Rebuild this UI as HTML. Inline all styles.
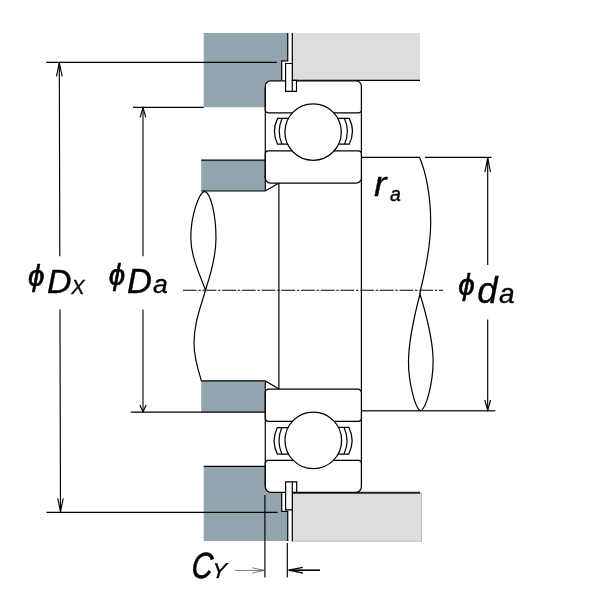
<!DOCTYPE html>
<html>
<head>
<meta charset="utf-8">
<title>Bearing abutment dimensions</title>
<style>
  html, body { margin: 0; padding: 0; background: #ffffff; }
  body { width: 600px; height: 600px; overflow: hidden; }
  svg { display: block; will-change: transform; }
  .lbl { font-family: "Liberation Sans", "DejaVu Sans", sans-serif; font-style: italic; fill: #000; stroke: #000; stroke-width: 0.35; }
  .ph { stroke-width: 0.6; }
  .o  { fill: none; stroke: #000; stroke-width: 1.2; }
  .w  { fill: #fff; stroke: #000; stroke-width: 1.25; }
  .t  { fill: none; stroke: #000; stroke-width: 1.15; }
  .lb { stroke: #000; stroke-width: 0.3; }
  .cb { stroke-width: 0.7; }
  .m  { fill: none; stroke: #000; stroke-width: 1.2; }
  .w.m { fill: #fff; stroke-width: 1.2; }
  .blue { fill: #92a5af; }
  .gray { fill: #dddddd; }
</style>
</head>
<body>
<svg width="600" height="600" viewBox="0 0 600 600">
  <rect x="0" y="0" width="600" height="600" fill="#ffffff"/>

  <!-- ===== housing (blue) top ===== -->
  <path class="blue" d="M203.7 33 H287.8 V61 H282 V81 H272 V107.2 H203.7 Z"/>
  <path class="m" d="M287.75 33 V60.8 H281.7 V80.4"/>
  <!-- housing cover (gray) top -->
    <rect class="gray" x="292.3" y="33" width="127.8" height="47.4"/>
  <path class="m" d="M292.3 33 V80.4 H420"/>

  <!-- ===== housing (blue) bottom ===== -->
  <path class="blue" d="M203.7 466.3 H272 V492 H281.7 V511.3 H287.8 V541 H203.7 Z"/>
  <path class="t" d="M203.7 466.3 H265.3"/>
  <path class="m" d="M281.7 492 V511.3 H287.75 V541"/>
  <!-- housing cover (gray) bottom -->
  <rect class="gray" x="292.3" y="492.8" width="129.1" height="48.4" style="stroke:#b0b0b0;stroke-width:0.8"/>
  <path class="m" d="M292.3 541.2 V492.6" /><path d="M291.5 492.8 H420" fill="none" stroke="#222" stroke-width="2"/>

  <!-- ===== shaft collar (blue) ===== -->
  <rect class="blue" x="201.2" y="160" width="64.2" height="31"/>
  <path class="t" d="M201.2 160.1 H265.3"/>
  <path class="t" d="M201.2 191 H265.3 L278.6 183.2 M265.3 176 V191"/>
  <rect class="blue" x="201.2" y="380.8" width="64.2" height="31.3"/>
  <path class="t" d="M201.2 380.9 H265.3 L278.6 388.8 M265.3 380.8 V396"/>

  <!-- shaft lines through bore -->
  <path class="o" d="M278.9 183 V389"/>
  <path class="o" d="M361.4 88 V486"/>
  <path class="o" d="M265.3 88 V178"/>
  <path class="o" d="M265.3 394 V486"/>
  <!-- shaft shoulder right -->
  <path class="t" d="M361 157.3 H419.5"/>
  <path d="M361 410.8 H420.6" fill="none" stroke="#333" stroke-width="1.4"/>

  <!-- break lines left -->
  <path class="o" d="M204.5 191.3 C199.5 192.5 190.8 214 190.8 238 C190.8 255 198.5 272 205.5 290 C211.5 272 216 255 216 238 C216 214 210.5 192.5 204.5 191.3 Z"/>
  <path class="o" d="M205.5 290 C201.5 305 194 322 194 343 C194 358 198 370 201.5 381"/>
  <!-- break lines right -->
  <path class="o" d="M419.5 157.3 C425.5 171 430.7 195 430.7 222 C430.7 248 425 272 420.5 290.2 L420 294"/>
  <path class="o" d="M420 294 C414 317 408.5 340 408.5 362 C408.5 382 415 408.5 420.6 410.8 C426.5 408.5 433.1 382 433.1 361 C433.1 340 427 317 420 294 Z"/>

  <!-- centre line -->
  <path class="t" d="M183 290.2 H443" stroke-dasharray="13.8 1.75 2.4 1.75" stroke-dashoffset="0.2"/>

  <!-- ===== top bearing ===== -->
  <path class="w" d="M270.8 80.8 H355.9 A5.5 5.5 0 0 1 361.4 86.3 V109.9 A3 3 0 0 1 358.4 112.9 H268.3 A3 3 0 0 1 265.3 109.9 V86.3 A5.5 5.5 0 0 1 270.8 80.8 Z"/>
  <path class="w" d="M268.3 150.8 H358.4 A3 3 0 0 1 361.4 153.8 V178 A5 5 0 0 1 356.4 183 H270.3 A5 5 0 0 1 265.3 178 V153.8 A3 3 0 0 1 268.3 150.8 Z"/>
  <!-- cage -->
  <path class="w" d="M289 118.4 H277.6 Q271.2 131.3 277.6 144.2 H289 Z"/>
  <path class="o" d="M282 118.4 Q276.4 131.3 282 144.2"/>
  <path class="w" d="M337 118.4 H349.2 Q355.8 131.3 349.2 144.2 H337 Z"/>
  <path class="o" d="M344.5 118.4 Q350.3 131.3 344.5 144.2"/>
  <circle class="w" cx="313.1" cy="132.1" r="28.2"/>

  <!-- ===== bottom bearing ===== -->
  <path class="w" d="M268.8 389.2 H357.9 A3.5 3.5 0 0 1 361.4 392.7 V418.3 A3 3 0 0 1 358.4 421.3 H268.3 A3 3 0 0 1 265.3 418.3 V392.7 A3.5 3.5 0 0 1 268.8 389.2 Z"/>
  <path class="w" d="M268.3 460.4 H358.4 A3 3 0 0 1 361.4 463.4 V486.8 A5.5 5.5 0 0 1 355.9 492.3 H270.8 A5.5 5.5 0 0 1 265.3 486.8 V463.4 A3 3 0 0 1 268.3 460.4 Z"/>
  <path class="w" d="M289 427.5 H277.3 Q270.9 440.7 277.3 454 H289 Z"/>
  <path class="o" d="M281.8 427.5 Q276.2 440.7 281.8 454"/>
  <path class="w" d="M337 427.3 H348.8 Q355.4 440.6 348.8 454 H337 Z"/>
  <path class="o" d="M344 427.3 Q350.1 440.6 344 454"/>
  <circle class="w" cx="313.3" cy="440.4" r="28.3"/>

  <!-- ===== snap rings ===== -->
  <path class="w m" d="M285.6 63.5 H292.3 V80.4 H296.5 V91.3 H285.6 Z"/>
  <path class="m" d="M292.3 80 V91.3"/>
  <path class="w m" d="M285.6 509.8 H292.3 V492.3 H296.7 V481.9 H285.6 Z"/>
  <path class="m" d="M292.3 492.6 V481.9"/>

  <!-- ===== dimension: phi DX ===== -->
  <path class="t" d="M46.2 62.3 H276.8"/>
  <path class="t" d="M46.5 512.3 H277.5"/>
  <path class="t" d="M59.3 62.3 L59.8 256.3 M59.95 309.5 L60.5 512.3"/>
  <path class="t" d="M56.5 76.4 L59.3 62.8 L62.2 76.4"/>
  <path class="t" d="M57.8 498.3 L60.5 511.8 L63.2 498.3"/>

  <!-- ===== dimension: phi Da ===== -->
  <path class="t" d="M133 107.3 H203.7"/>
  <path class="t" d="M130.8 412.1 H265.3"/>
  <path d="M143 107.3 V256.3 M143 309.5 V412" fill="none" stroke="#3a3a3a" stroke-width="1.4"/>
  <path class="t" d="M140.1 117.4 L143 107.8 L145.9 117.4"/>
  <path class="t" d="M139.9 405 L143 411.8 L146.1 405"/>

  <!-- ===== dimension: phi da ===== -->
  <path class="t" d="M425 157.3 H491.5"/>
  <path d="M420 410.8 H495.3" fill="none" stroke="#333" stroke-width="1.4"/>
  <path class="t" d="M487.7 157.2 V265 M487.7 319.4 V410.8"/>
  <path class="t" d="M484.9 172.2 L487.7 157.8 L490.5 172.2"/>
  <path class="t" d="M484.8 400 L487.7 410.4 L490.6 400"/>

  <!-- ===== dimension: CY ===== -->
  <path class="t" d="M264.9 495 V577.5"/>
  <path class="t" d="M287.3 543 V577.5"/>
  <path d="M234.7 570.4 H264.4" fill="none" stroke="#444" stroke-width="0.7"/>
  <path d="M252.4 567.8 L264.2 570.4 L252.4 573" fill="none" stroke="#444" stroke-width="0.7"/>
  <path class="o" d="M288.6 570.2 H320" style="stroke-width:1.6"/>
  <path class="o" d="M302.8 567.4 L288.8 570.2 L302.8 573" style="stroke-width:1.3"/>

  <!-- ===== labels ===== -->
  <text class="lbl"><tspan class="ph" x="28" y="286.4" font-size="29.5">ϕ</tspan><tspan x="47" y="293.4" font-size="34">D</tspan><tspan x="71.3" y="293.6" font-size="20">X</tspan></text>
  <text class="lbl"><tspan class="ph" x="108.7" y="285.4" font-size="29.5">ϕ</tspan><tspan x="127" y="293" font-size="34.5">D</tspan><tspan x="153" y="293.2" font-size="26.5">a</tspan></text>
  <text class="lbl"><tspan class="ph" x="458.3" y="295.4" font-size="29.5">ϕ</tspan><tspan x="477.2" y="303" font-size="36.5">d</tspan><tspan x="499" y="302.8" font-size="28">a</tspan></text>
  <text class="lbl"><tspan class="lb" x="374" y="196" font-size="34.5" textLength="12.4" lengthAdjust="spacingAndGlyphs">r</tspan><tspan x="390" y="200.6" font-size="19.5">a</tspan></text>
  <text class="lbl" transform="translate(191 578.1) scale(0.79 1) skewX(-6)"><tspan class="cb" x="0" y="0" font-size="36.5">C</tspan><tspan x="25.9" y="-0.3" font-size="21.5" textLength="18.2" lengthAdjust="spacingAndGlyphs">Y</tspan></text>
</svg>
</body>
</html>
